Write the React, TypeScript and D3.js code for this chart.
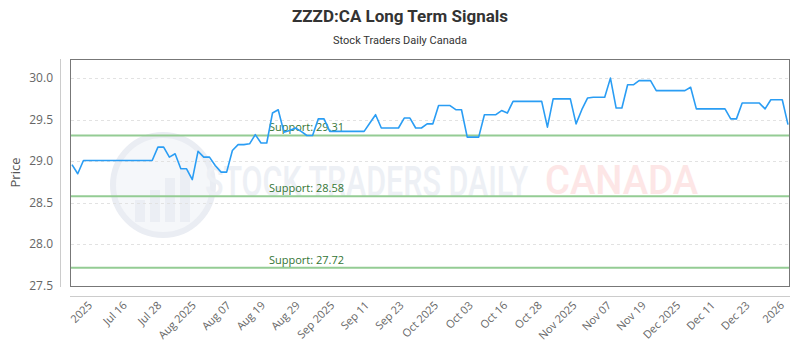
import React, { useRef, useEffect } from "react";
import { select, line, scaleLinear, scalePoint, format } from "d3";

// daily closes, one per trading session
const prices: number[] = [
  28.96, 28.85, 29.01, 29.01, 29.01, 29.01, 29.01, 29.01, 29.01, 29.01,
  29.01, 29.01, 29.01, 29.01, 29.01, 29.17, 29.17, 29.05, 29.09, 28.91,
  28.91, 28.78, 29.12, 29.05, 29.05, 28.95, 28.87, 28.87, 29.13, 29.2,
  29.2, 29.21, 29.32, 29.22, 29.22, 29.58, 29.62, 29.35, 29.37, 29.4,
  29.36, 29.31, 29.31, 29.51, 29.51, 29.36, 29.36, 29.36, 29.36, 29.36,
  29.36, 29.36, 29.46, 29.56, 29.4, 29.4, 29.4, 29.4, 29.52, 29.52,
  29.4, 29.4, 29.45, 29.45, 29.67, 29.67, 29.67, 29.62, 29.62, 29.29,
  29.29, 29.29, 29.56, 29.56, 29.56, 29.61, 29.58, 29.72, 29.72, 29.72,
  29.72, 29.72, 29.72, 29.41, 29.75, 29.75, 29.75, 29.75, 29.45, 29.62,
  29.76, 29.77, 29.77, 29.77, 30.0, 29.64, 29.64, 29.92, 29.92, 29.97,
  29.97, 29.97, 29.85, 29.85, 29.85, 29.85, 29.85, 29.85, 29.89, 29.63,
  29.63, 29.63, 29.63, 29.63, 29.63, 29.51, 29.51, 29.7, 29.7, 29.7,
  29.7, 29.63, 29.74, 29.74, 29.74, 29.44,
];

const tickLabels = [
  "2025", "Jul 16", "Jul 28", "Aug 2025", "Aug 07", "Aug 19", "Aug 29",
  "Sep 2025", "Sep 11", "Sep 23", "Oct 2025", "Oct 03", "Oct 16", "Oct 28",
  "Nov 2025", "Nov 07", "Nov 19", "Dec 2025", "Dec 11", "Dec 23", "2026",
];

const priceTicks = [27.5, 28.0, 28.5, 29.0, 29.5, 30.0];
const supportLevels = [29.31, 28.58, 27.72];

const W = 800;
const H = 350;
const plotLeft = 71;
const plotRight = 790;
const plotTop = 59;
const plotBottom = 286;

const App: React.FC = () => {
  const svgRef = useRef<SVGSVGElement>(null);

  useEffect(() => {
    const svg = select(svgRef.current);
    svg.selectAll("*").remove();

    const x = scaleLinear()
      .domain([0, prices.length - 1])
      .range([plotLeft + 1, plotRight - 2]);
    const y = scaleLinear().domain([27.5, 30.23]).range([plotBottom, plotTop]);
    const xTick = scalePoint<string>().domain(tickLabels).range([93, 785]);
    const fmt = format(".1f");
    const font = "'Open Sans', sans-serif";

    // title
    svg
      .append("text")
      .attr("x", W / 2)
      .attr("y", 22)
      .attr("text-anchor", "middle")
      .attr("font-family", "Roboto, sans-serif")
      .attr("font-weight", "bold")
      .attr("font-size", 17)
      .attr("fill", "#333")
      .text("ZZZD:CA Long Term Signals");
    svg
      .append("text")
      .attr("x", W / 2)
      .attr("y", 44)
      .attr("text-anchor", "middle")
      .attr("font-family", "Roboto, sans-serif")
      .attr("font-size", 11)
      .attr("fill", "#333")
      .text("Stock Traders Daily Canada");

    // watermark
    const wm = svg.append("g");
    wm.append("circle")
      .attr("cx", 163)
      .attr("cy", 185)
      .attr("r", 50)
      .attr("fill", "#f5f7fa")
      .attr("stroke", "#eaedf3")
      .attr("stroke-width", 6);
    [
      [135, 200, 10, 22],
      [150, 190, 10, 32],
      [165, 178, 10, 44],
      [180, 170, 10, 52],
    ].forEach(([bx, by, bw, bh]) =>
      wm
        .append("rect")
        .attr("x", bx)
        .attr("y", by)
        .attr("width", bw)
        .attr("height", bh)
        .attr("fill", "#ebeef4")
    );
    wm.append("text")
      .attr("x", 205)
      .attr("y", 196)
      .attr("font-family", "Roboto, sans-serif")
      .attr("font-weight", 500)
      .attr("font-size", 42)
      .attr("textLength", 323)
      .attr("lengthAdjust", "spacingAndGlyphs")
      .attr("fill", "#edf0f5")
      .text("STOCK TRADERS DAILY");
    wm.append("text")
      .attr("x", 545)
      .attr("y", 194)
      .attr("font-family", "Roboto, sans-serif")
      .attr("font-weight", 500)
      .attr("font-size", 40)
      .attr("textLength", 153)
      .attr("lengthAdjust", "spacingAndGlyphs")
      .attr("fill", "#fde6e6")
      .text("CANADA");

    // grid
    svg
      .append("g")
      .selectAll("line")
      .data(priceTicks)
      .join("line")
      .attr("x1", plotLeft)
      .attr("x2", plotRight)
      .attr("y1", (d) => Math.round(y(d)) + 0.5)
      .attr("y2", (d) => Math.round(y(d)) + 0.5)
      .attr("stroke", "#e2e2e2")
      .attr("stroke-dasharray", "3,3");

    // support levels
    const sup = svg.append("g");
    sup
      .selectAll("line")
      .data(supportLevels)
      .join("line")
      .attr("x1", plotLeft)
      .attr("x2", plotRight)
      .attr("y1", (d) => y(d))
      .attr("y2", (d) => y(d))
      .attr("stroke", "#94cc94")
      .attr("stroke-width", 2);
    sup
      .selectAll("text")
      .data(supportLevels)
      .join("text")
      .attr("x", 269)
      .attr("y", (d) => y(d) - 4)
      .attr("font-family", font)
      .attr("font-size", 11)
      .attr("fill", "#347534")
      .text((d) => `Support: ${d.toFixed(2)}`);

    // price line
    const l = line<number>()
      .x((_, i) => x(i))
      .y((d) => y(d));
    svg
      .append("path")
      .datum(prices)
      .attr("d", l)
      .attr("fill", "none")
      .attr("stroke", "#2a9df4")
      .attr("stroke-width", 1.6)
      .attr("stroke-linejoin", "round");

    // frame + offset axis lines
    svg
      .append("rect")
      .attr("x", plotLeft - 0.5)
      .attr("y", plotTop + 0.5)
      .attr("width", plotRight - plotLeft)
      .attr("height", plotBottom - plotTop)
      .attr("fill", "none")
      .attr("stroke", "#777");
    svg
      .append("line")
      .attr("x1", 60.5)
      .attr("x2", 60.5)
      .attr("y1", plotTop)
      .attr("y2", plotBottom + 1)
      .attr("stroke", "#ccc");
    svg
      .append("line")
      .attr("x1", plotLeft - 1)
      .attr("x2", plotRight)
      .attr("y1", 296.5)
      .attr("y2", 296.5)
      .attr("stroke", "#ccc");

    // y labels
    svg
      .append("g")
      .selectAll("text")
      .data(priceTicks)
      .join("text")
      .attr("x", 53)
      .attr("y", (d) => y(d) + 4)
      .attr("text-anchor", "end")
      .attr("font-family", font)
      .attr("font-size", 12)
      .attr("fill", "#666")
      .text((d) => fmt(d));
    svg
      .append("text")
      .attr("transform", `translate(20,${(plotTop + plotBottom) / 2}) rotate(-90)`)
      .attr("text-anchor", "middle")
      .attr("font-family", font)
      .attr("font-size", 13)
      .attr("fill", "#555")
      .text("Price");

    // x labels
    svg
      .append("g")
      .selectAll("text")
      .data(tickLabels)
      .join("text")
      .attr("transform", (d) => `translate(${xTick(d)},306) rotate(-45)`)
      .attr("text-anchor", "end")
      .attr("font-family", font)
      .attr("font-size", 11)
      .attr("fill", "#666")
      .text((d) => d);
  }, []);

  return (
    <svg
      ref={svgRef}
      width={W}
      height={H}
      style={{ position: "absolute", left: 0, top: 0, background: "#fff" }}
    ></svg>
  );
};

export default App;
